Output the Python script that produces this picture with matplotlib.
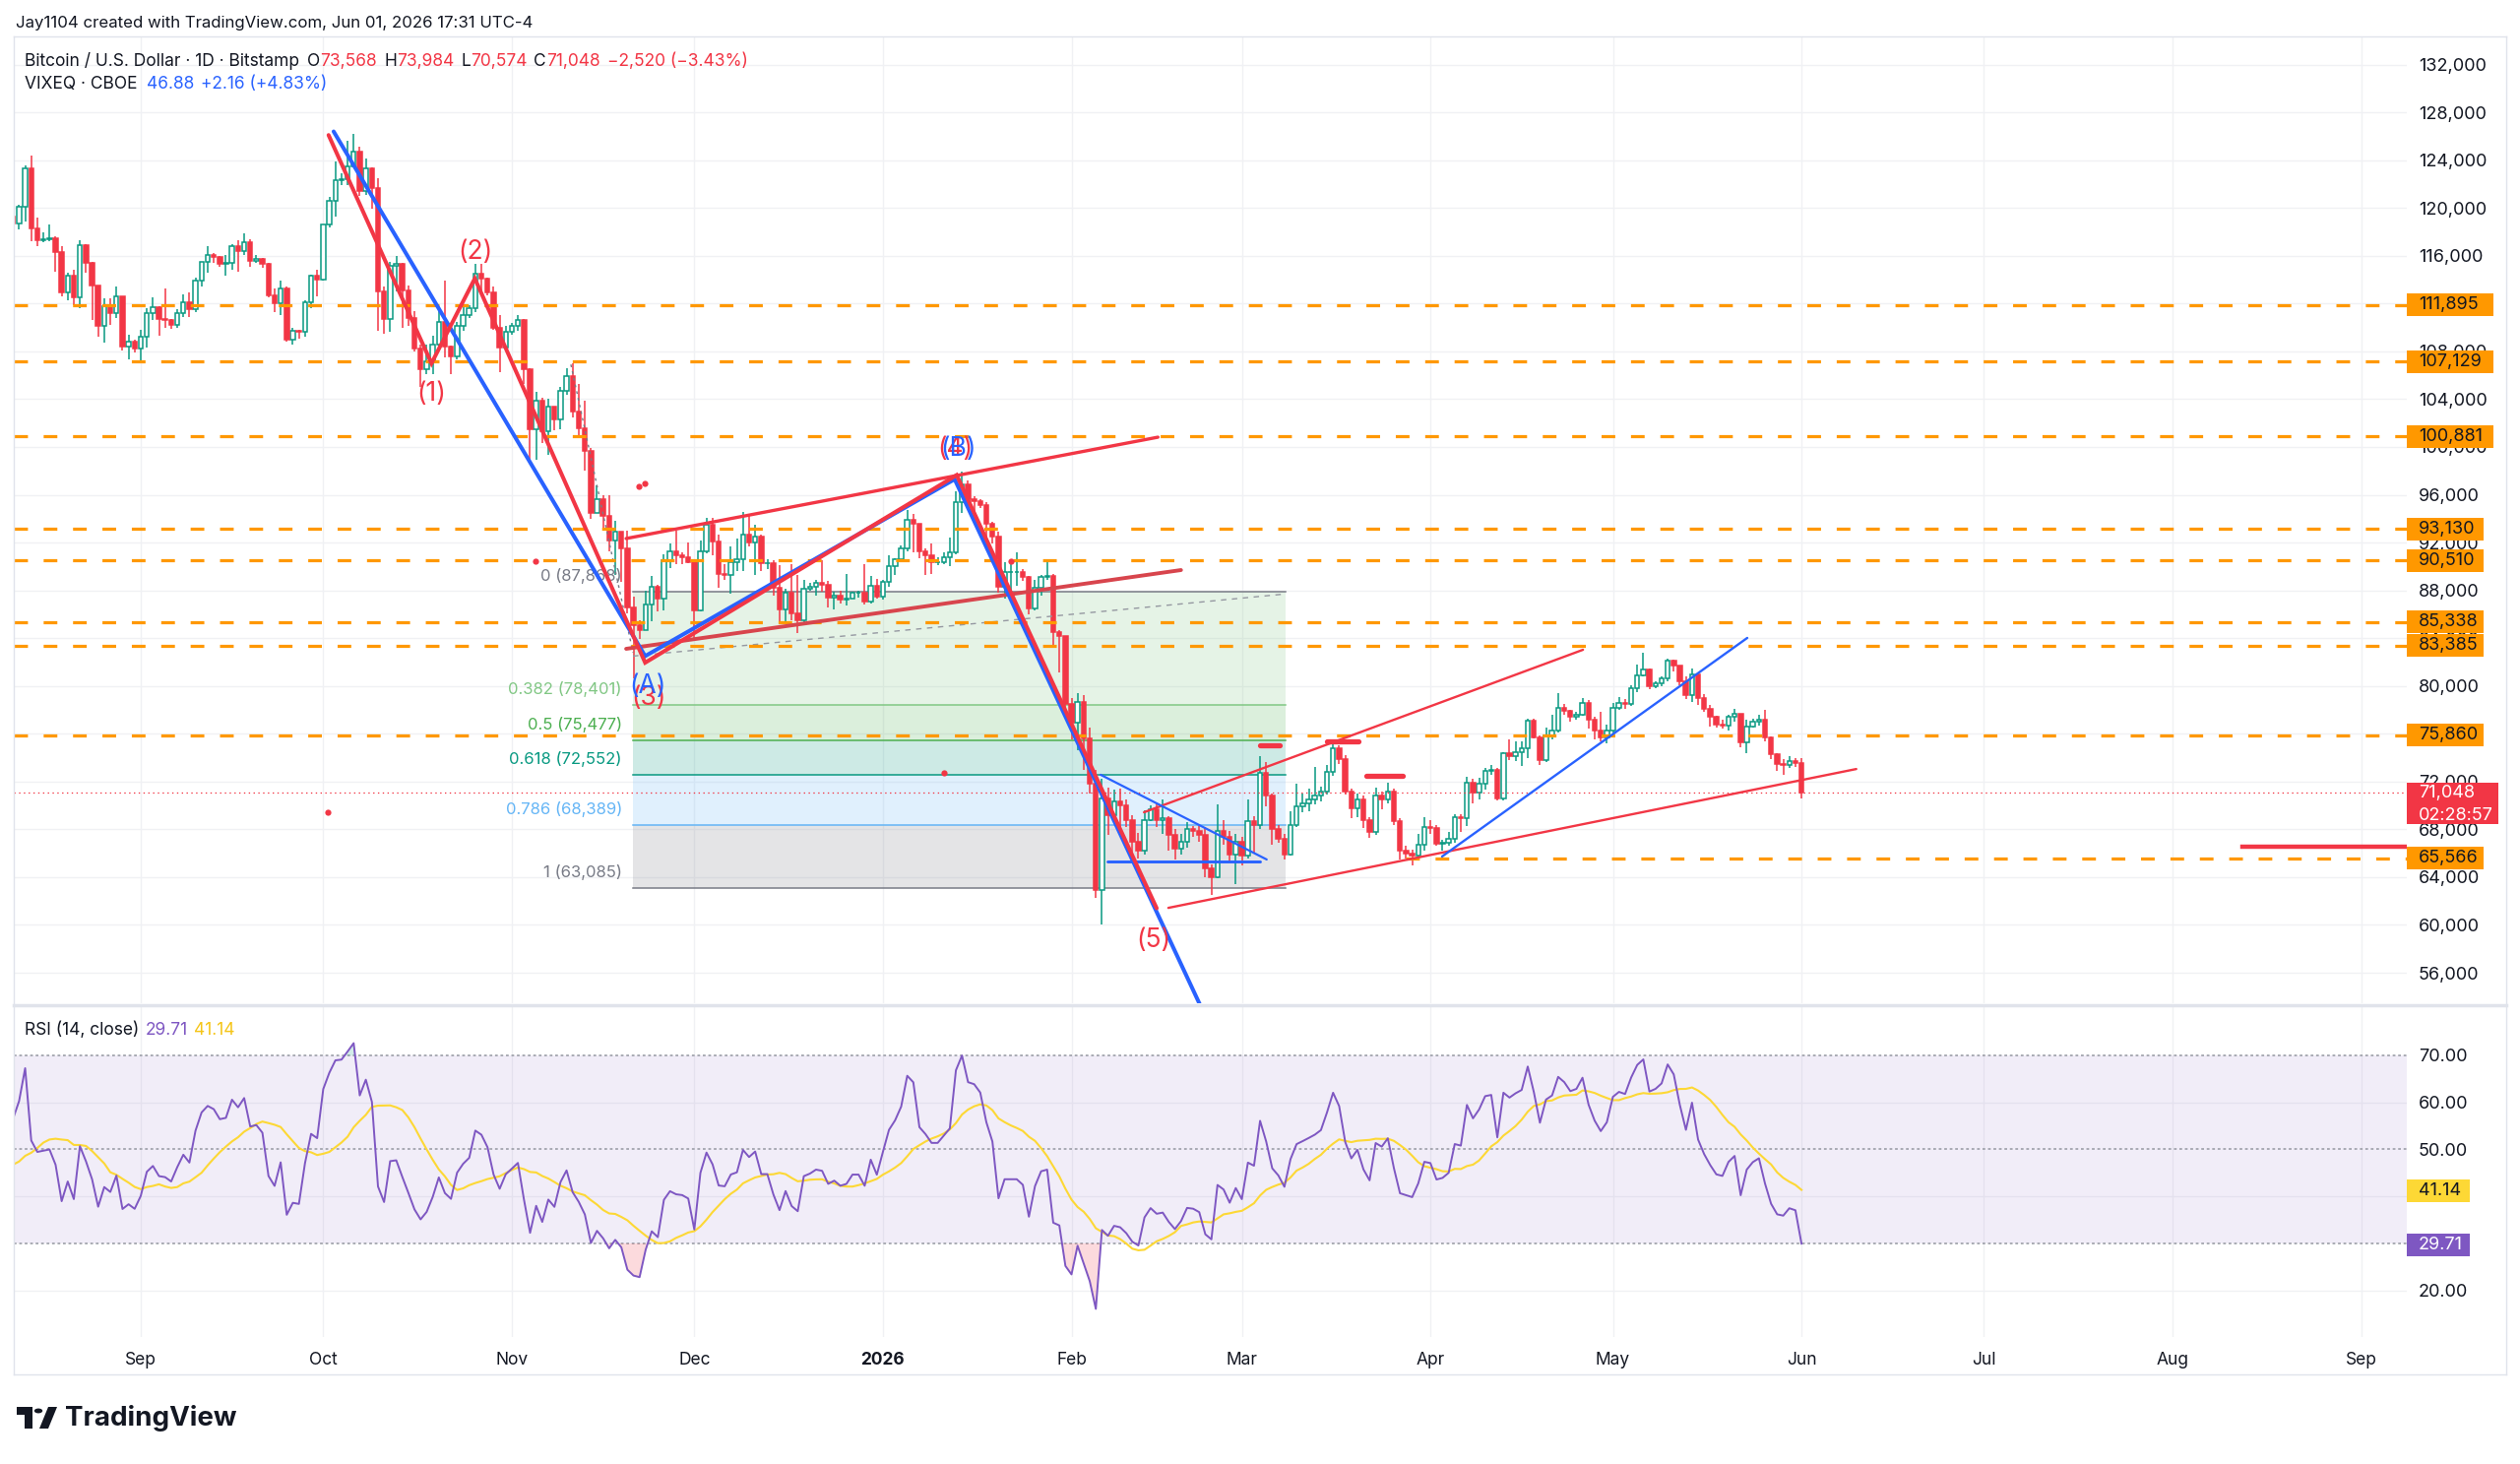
import numpy as np
import pandas as pd
import matplotlib
matplotlib.use("Agg")
import matplotlib.pyplot as plt
import matplotlib.dates as mdates
from matplotlib.patches import Rectangle, Polygon, Circle
from matplotlib.lines import Line2D
from matplotlib.ticker import FuncFormatter
from matplotlib.transforms import blended_transform_factory

plt.rcParams['font.family'] = ['Inter', 'DejaVu Sans']
plt.rcParams['lines.scale_dashes'] = False

W, H, DPI = 2560, 1487, 100

RED = '#f23645'
GREEN = '#089981'
BLUE = '#2962ff'
ORANGE = '#ff9800'
PURPLE = '#7e57c2'
YELLOW = '#fdd835'
DARK = '#131722'
GRID = '#f0f1f4'

# ---- daily BTC/USD candles, thousands of USD, from 2025-08-11 ----
first_day = "2025-08-11"
first_open = 119.3
close_k = [
    # Aug
    118.7, 120.1, 123.3, 118.3, 117.3, 117.4, 117.5, 116.3, 112.9, 114.3, 112.5, 116.9, 115.4, 113.5, 110.1, 111.8,
    111.2, 112.6, 108.4, 108.8, 108.2,
    # Sep
    109.2, 111.2, 111.7, 110.7, 110.6, 110.2, 111.2, 112.1, 111.5, 113.9, 115.5, 116.1, 115.9, 115.3, 115.4, 116.8,
    116.4, 117.1, 115.6, 115.7, 115.3, 112.7, 112.0, 113.3, 109.0, 109.7, 109.6, 112.1, 114.3, 114.0,
    # Oct
    118.6, 120.6, 122.3, 122.4, 123.5, 124.7, 121.4, 123.3, 121.7, 113.0, 110.7, 115.2, 115.3, 113.1, 110.8, 108.2,
    106.5, 107.2, 108.6, 110.5, 108.4, 107.6, 110.1, 111.0, 111.6, 114.5, 114.1, 112.9, 110.0, 108.3, 109.6,
    # Nov
    110.1, 110.6, 106.5, 101.5, 103.9, 101.3, 103.4, 102.3, 104.7, 105.9, 103.0, 101.6, 99.7, 94.5, 95.6, 94.2,
    92.2, 92.9, 91.5, 86.6, 85.1, 84.7, 86.8, 88.3, 87.3, 90.5, 91.3, 90.9, 90.8, 90.4,
    # Dec
    86.3, 91.3, 93.5, 92.1, 89.4, 89.3, 90.4, 90.6, 92.7, 92.0, 92.5, 90.3, 90.3, 88.2, 86.4, 87.8,
    86.1, 85.5, 88.1, 88.3, 88.6, 88.5, 87.4, 87.6, 87.2, 87.3, 87.8, 87.8, 87.1, 88.4, 87.5,
    # Jan
    88.7, 90.0, 90.6, 91.5, 93.9, 93.6, 91.3, 90.9, 90.4, 90.4, 90.8, 91.2, 95.4, 96.9, 95.6, 95.5,
    95.1, 93.6, 92.5, 88.3, 89.5, 89.5, 89.5, 89.1, 86.5, 88.2, 89.1, 89.2, 84.5, 84.2, 78.5,
    # Feb
    76.9, 78.7, 75.6, 71.8, 62.9, 70.6, 69.2, 70.3, 70.0, 68.8, 67.0, 66.2, 68.8, 69.7, 68.8, 68.9,
    67.5, 66.4, 67.0, 68.0, 67.9, 67.5, 64.7, 64.0, 67.9, 67.4, 65.9, 67.0,
    # Mar
    65.8, 68.7, 68.4, 72.7, 70.8, 68.0, 67.2, 65.9, 68.4, 69.9, 70.2, 70.5, 70.8, 71.2, 72.8, 74.8,
    73.9, 71.2, 69.8, 70.5, 68.8, 67.8, 70.8, 70.5, 71.2, 68.7, 66.2, 66.0, 65.8, 66.7, 68.2,
    # Apr
    68.1, 66.8, 66.9, 67.2, 69.0, 68.9, 71.9, 71.1, 71.8, 72.9, 73.0, 70.6, 74.4, 74.1, 74.5, 74.8,
    77.1, 75.7, 73.8, 75.9, 76.3, 78.2, 77.9, 77.4, 77.6, 78.6, 77.2, 76.3, 75.7, 76.3,
    # May
    78.2, 78.6, 78.5, 79.8, 80.9, 81.4, 80.0, 80.2, 80.6, 82.1, 81.7, 80.4, 79.2, 81.0, 79.0, 78.1,
    77.4, 76.8, 76.7, 77.4, 77.7, 75.3, 76.6, 77.0, 77.2, 75.7, 74.3, 73.5, 73.4, 73.7, 73.568,
    # Jun 1
    71.048,
]
high_k = [
    119.5, 120.3, 123.6, 124.4, 119.2, 118.0, 118.6, 117.6, 116.8, 114.6, 114.8, 117.3, 117.0, 115.5, 113.5, 112.4,
    112.4, 113.4, 112.6, 109.4, 109.0,
    109.8, 111.6, 112.5, 111.8, 113.3, 110.7, 111.5, 112.8, 112.9, 114.2, 115.5, 116.8, 116.2, 116.0, 116.1, 117.0,
    117.3, 117.9, 117.4, 116.1, 115.8, 115.4, 113.3, 113.9, 113.4, 110.0, 109.8, 112.3, 114.4, 114.8,
    118.6, 120.9, 123.9, 122.9, 125.6, 126.2, 125.1, 124.1, 123.4, 122.5, 113.4, 115.5, 116.0, 115.4, 113.5, 111.4,
    108.6, 108.6, 109.3, 111.4, 113.9, 108.5, 110.5, 111.7, 111.9, 115.3, 115.3, 114.2, 113.4, 111.0, 110.1,
    110.4, 111.0, 110.7, 106.6, 104.6, 104.1, 104.0, 103.4, 105.0, 106.6, 107.0, 105.3, 103.9, 99.9, 96.8, 96.0,
    96.0, 93.8, 92.9, 93.0, 87.5, 85.5, 88.0, 89.2, 88.5, 91.0, 91.9, 93.0, 91.2, 92.0,
    90.4, 92.2, 94.1, 94.1, 92.7, 90.2, 91.7, 92.3, 94.6, 94.4, 93.5, 92.7, 90.6, 90.5, 90.1, 88.1,
    90.2, 89.3, 88.9, 88.6, 88.9, 90.5, 88.8, 87.9, 88.0, 89.4, 87.9, 88.0, 90.2, 89.2, 89.0,
    88.9, 90.9, 90.7, 91.8, 94.7, 94.4, 93.6, 91.5, 91.9, 90.8, 91.2, 92.4, 96.3, 97.9, 97.2, 95.9,
    95.6, 95.4, 93.7, 92.9, 90.4, 90.3, 91.2, 89.8, 89.2, 88.9, 89.3, 90.6, 89.4, 84.7, 84.2,
    79.0, 79.4, 79.2, 76.5, 73.0, 72.2, 71.5, 71.3, 71.4, 70.5, 69.2, 67.7, 69.6, 70.0, 70.2, 70.5,
    69.1, 68.0, 67.6, 68.6, 68.3, 68.3, 68.2, 65.1, 70.1, 68.8, 67.9, 67.6,
    67.4, 70.5, 69.1, 74.1, 73.6, 71.0, 68.4, 67.6, 69.5, 71.8, 71.0, 71.4, 73.2, 71.6, 73.4, 75.4,
    75.0, 74.2, 71.4, 71.0, 70.8, 69.0, 71.5, 71.2, 71.9, 71.4, 68.9, 66.6, 66.3, 67.6, 69.0,
    68.8, 68.4, 67.1, 67.8, 69.3, 69.3, 72.4, 72.2, 72.3, 73.1, 73.4, 73.1, 74.5, 75.5, 75.4, 75.4,
    77.3, 77.3, 75.9, 76.5, 77.6, 79.4, 78.5, 78.0, 77.8, 79.0, 78.8, 77.4, 77.8, 76.8,
    78.6, 79.1, 78.9, 80.1, 81.8, 82.8, 81.5, 80.4, 80.8, 82.3, 82.2, 81.7, 80.8, 81.5, 81.1, 79.3,
    78.4, 77.5, 77.2, 77.6, 78.1, 77.7, 77.2, 77.3, 77.6, 78.0, 75.8, 74.4, 73.9, 74.1, 74.0,
    73.984,
]
low_k = [
    118.2, 118.2, 118.9, 117.2, 116.8, 117.1, 117.2, 114.7, 112.6, 112.3, 111.9, 111.6, 114.6, 110.6, 109.2, 108.7,
    110.2, 110.8, 108.1, 107.3, 107.9,
    107.2, 108.3, 110.6, 109.3, 110.0, 109.9, 110.0, 110.9, 110.9, 111.3, 113.4, 114.6, 115.4, 115.1, 114.3, 114.8,
    114.7, 116.1, 115.1, 115.4, 115.0, 112.5, 111.3, 111.0, 108.8, 108.6, 109.1, 109.2, 111.6, 112.6,
    113.9, 118.4, 119.3, 121.9, 121.9, 123.4, 121.0, 121.1, 119.9, 109.7, 109.5, 109.6, 113.0, 110.0, 110.1, 108.0,
    105.0, 106.1, 106.1, 108.3, 107.5, 106.1, 107.3, 109.7, 110.8, 111.3, 113.0, 112.7, 109.8, 106.3, 108.1,
    109.4, 109.7, 105.3, 98.9, 98.9, 100.3, 99.3, 101.4, 101.5, 104.4, 102.5, 100.8, 98.0, 94.0, 94.6, 93.0,
    91.3, 89.3, 88.7, 86.1, 80.6, 83.9, 84.7, 85.4, 86.2, 86.3, 89.9, 90.2, 90.2, 90.3,
    83.8, 86.2, 91.1, 90.9, 88.2, 88.9, 87.7, 89.6, 89.6, 91.7, 89.3, 89.6, 89.8, 87.6, 85.3, 85.3,
    85.5, 84.4, 85.2, 88.0, 87.6, 87.9, 86.6, 86.4, 86.9, 86.7, 87.3, 87.4, 86.8, 86.9, 87.3,
    87.2, 88.3, 89.3, 90.5, 91.3, 91.2, 90.7, 89.3, 89.4, 90.1, 90.2, 90.0, 91.0, 94.5, 95.1, 94.3,
    94.9, 92.5, 91.9, 87.8, 87.3, 88.0, 88.4, 88.8, 86.0, 86.3, 87.6, 88.9, 83.2, 81.1, 77.5,
    75.5, 74.6, 73.0, 71.0, 62.3, 60.0, 67.5, 68.8, 67.9, 68.2, 65.8, 65.6, 65.9, 68.7, 68.2, 67.6,
    66.2, 65.5, 65.9, 66.5, 67.4, 67.0, 64.0, 62.5, 63.9, 66.7, 65.2, 63.4,
    65.0, 65.6, 66.0, 68.0, 69.9, 66.7, 66.9, 65.5, 65.8, 68.2, 69.4, 69.5, 70.1, 70.3, 70.9, 72.5,
    73.5, 70.9, 68.9, 69.0, 68.1, 67.3, 67.5, 69.7, 70.2, 68.4, 65.5, 65.6, 65.0, 65.6, 66.2,
    67.6, 66.6, 66.2, 66.6, 66.9, 67.8, 68.3, 70.2, 70.5, 71.3, 72.6, 70.4, 70.4, 73.8, 73.7, 73.3,
    74.0, 75.6, 73.4, 73.6, 75.5, 76.1, 77.6, 77.0, 77.2, 77.5, 76.4, 75.5, 75.4, 75.2,
    76.0, 78.0, 78.1, 78.3, 79.5, 80.8, 79.7, 79.8, 80.0, 80.4, 81.2, 80.1, 78.9, 78.7, 78.4, 77.8,
    76.6, 76.5, 76.4, 76.3, 77.0, 74.9, 74.4, 76.5, 76.7, 75.4, 73.9, 72.9, 72.6, 73.1, 73.2,
    70.574,
]
# closes before the window, only to warm up the RSI
warmup_close_k = [
    117.5, 117.4, 119.1, 119.8, 117.7, 118.7, 119.3, 117.9, 117.9, 117.3, 117.4, 119.9, 118.8, 118.4, 117.6, 117.9,
    119.4, 118.0, 117.9, 117.8, 115.8, 113.3, 112.6, 114.2, 115.1, 114.1, 115.0, 117.5, 116.7, 116.5, 119.3,
]

# horizontal levels (orange dashed) and where they start (None = left edge)
level_prices = [111895, 107129, 100881, 93130, 90510, 85338, 83385, 75860, 65566]
level_starts = [None, None, None, None, None, None, None, None, "2026-03-28"]

# fibonacci retracement
fib_ratios = ["0", "0.382", "0.5", "0.618", "0.786", "1"]
fib_prices = [87868, 78401, 75477, 72552, 68389, 63085]
fib_colors = ['#787b86', '#81c784', '#4caf50', '#089981', '#64b5f6', '#787b86']
fib_span = ("2025-11-20 22:00", "2026-03-08 05:00")

# drawings: (date, price) anchors
wave_red = [("2025-10-01 21:00", 126100), ("2025-10-18 19:00", 107000), ("2025-10-25 22:00", 114100),
            ("2025-11-22 22:00", 81950), ("2026-01-13 03:00", 97650), ("2026-02-15 00:00", 61400)]
wave_blue = [("2025-10-02 17:00", 126400), ("2025-11-22 22:00", 82500), ("2026-01-12 19:00", 97300),
             ("2026-02-22 10:00", 53000)]
wedge_up = [("2025-11-19 19:00", 92340), ("2026-02-15 05:00", 100820)]
wedge_dn = [("2025-11-19 19:00", 83110), ("2026-02-19 00:00", 89700)]
fib_trend = [("2025-11-10 17:00", 106900), ("2025-11-20 22:00", 82800)]
fib_diag = [("2025-11-20 22:00", 82500), ("2026-03-08 05:00", 87700)]
chan_up = [("2026-02-12 22:00", 69430), ("2026-04-26 02:00", 83030)]
chan_dn = [("2026-02-16 22:00", 61430), ("2026-06-10 00:00", 73050)]
rise_blue = [("2026-04-02 22:00", 65730), ("2026-05-23 02:00", 84020)]
tri_diag = [("2026-02-05 19:00", 72570), ("2026-03-05 02:00", 65480)]
tri_flat = [("2026-02-06 22:00", 65300), ("2026-03-04 00:00", 65300)]
marks = [("2026-03-04 00:00", "2026-03-07 05:00", 75050), ("2026-03-15 00:00", "2026-03-20 05:00", 75370),
         ("2026-03-21 12:00", "2026-03-27 12:00", 72500)]
future_line = ("2026-08-12 12:00", 66510)
dots = [("2025-11-21 22:00", 96700), ("2025-11-22 22:00", 96950), ("2025-11-04 22:00", 90440),
        ("2025-10-01 17:00", 69440), ("2026-01-22 00:00", 90440), ("2026-01-11 00:00", 72730)]
wave_labels = [("(1)", "2025-10-18 17:00", 104450, RED), ("(2)", "2025-10-26 00:00", 116310, RED),
               ("(3)", "2025-11-23 10:00", 79000, RED), ("(A)", "2025-11-23 06:00", 79950, BLUE),
               ("(4)", "2026-01-12 22:00", 99870, RED), ("(B)", "2026-01-13 10:00", 99870, BLUE),
               ("(5)", "2026-02-14 12:00", 58730, RED)]

month_ticks = ["2025-09-01", "2025-10-01", "2025-11-01", "2025-12-01", "2026-01-01", "2026-02-01", "2026-03-01",
               "2026-04-01", "2026-05-01", "2026-06-01", "2026-07-01", "2026-08-01", "2026-09-01"]
month_labels = ["Sep", "Oct", "Nov", "Dec", "2026", "Feb", "Mar", "Apr", "May", "Jun", "Jul", "Aug", "Sep"]

last_price = 71048
rsi_last, rsi_ma_last = 29.71, 41.14


def fx(px):
    return px / W


def fy(py):
    return 1 - py / H


def dn(s):
    return mdates.datestr2num(s)


fig = plt.figure(figsize=(W / DPI, H / DPI), dpi=DPI)
fig.patch.set_facecolor('white')
L, R = 14, 2445
ax = fig.add_axes([fx(L), fy(1019), fx(R) - fx(L), fy(37) - fy(1019)])
axr = fig.add_axes([fx(L), fy(1358), fx(R) - fx(L), fy(1023) - fy(1358)], sharex=ax)

x0 = dn(first_day)
ax.set_xlim(x0 + 0.13, x0 + 393.5)
ymin, ymax = 53450, 134356
ax.set_ylim(ymin, ymax)
rmin, rmax = 10.12, 80.19
axr.set_ylim(rmin, rmax)

for a in (ax, axr):
    for s in a.spines.values():
        s.set_visible(False)
    a.set_facecolor('none')

# candles
dates = x0 + np.arange(len(close_k))
close = np.array(close_k) * 1000
opens = np.array([first_open] + close_k[:-1]) * 1000
high = np.maximum(np.array(high_k) * 1000, np.maximum(opens, close))
low = np.minimum(np.array(low_k) * 1000, np.minimum(opens, close))
up = close >= opens
blo = np.minimum(opens, close)
bh = np.abs(close - opens)
ax.vlines(dates, low, high, colors=np.where(up, GREEN, RED), lw=1.1, zorder=3)
ax.bar(dates[up], bh[up], bottom=blo[up], width=0.72, facecolor='white', edgecolor=GREEN, lw=1.1, zorder=4)
ax.bar(dates[~up], bh[~up], bottom=blo[~up], width=0.72, facecolor=RED, edgecolor=RED, lw=1.1, zorder=4)

# grid
ax.set_yticks(np.arange(56000, 132001, 4000))
ax.yaxis.tick_right()
ax.yaxis.set_major_formatter(FuncFormatter(lambda v, p: f"{v:,.0f}"))
ax.tick_params(axis='y', length=0, pad=8.6, labelsize=13, labelcolor=DARK)
ax.tick_params(axis='x', length=0, labelbottom=False)
axr.set_xticks([dn(m) for m in month_ticks])
axr.set_xticklabels(month_labels)
axr.tick_params(axis='x', length=0, pad=11, labelsize=12.5, labelcolor=DARK)
axr.get_xticklabels()[4].set_fontweight('bold')
for a in (ax, axr):
    a.grid(True, color=GRID, lw=1, zorder=0)
    a.set_axisbelow(True)

# fib retracement
f0, f1 = dn(fib_span[0]), dn(fib_span[1])
for i in range(1, len(fib_prices)):
    ax.fill_between([f0, f1], fib_prices[i - 1], fib_prices[i], color=fib_colors[i], alpha=0.2, lw=0, zorder=1)
for r, p, c in zip(fib_ratios, fib_prices, fib_colors):
    ax.plot([f0, f1], [p, p], color=c, lw=1.1, zorder=2)
    ax.annotate(f"{r} ({p:,})", xy=(f0, p), xytext=(-8, 11.5), textcoords='offset points',
                ha='right', va='center', fontsize=12, color=c, zorder=6)
ax.plot([dn(d) for d, p in fib_trend], [p for d, p in fib_trend], color='#787b86', lw=1, ls=(0, (2, 3)), zorder=5)
ax.plot([dn(d) for d, p in fib_diag], [p for d, p in fib_diag], color='#9598a1', lw=1, ls=(0, (4, 4)), zorder=5)

# horizontal orange levels
for p, st in zip(level_prices, level_starts):
    xs = ax.get_xlim()[0] if st is None else dn(st)
    ax.plot([xs, ax.get_xlim()[1]], [p, p], color=ORANGE, lw=2.3, dashes=(10, 11.5), zorder=6)

# last price line
ax.axhline(last_price, color=RED, lw=0.9, ls=(0, (1, 2.5)), zorder=5)


def path(pts, color, lw, z=7):
    ax.plot([dn(d) for d, p in pts], [p for d, p in pts], color=color, lw=lw, zorder=z,
            solid_joinstyle='miter', solid_capstyle='round')


path(wedge_up, RED, 2.4)
path(wedge_dn, '#d8454d', 2.8)
path(wave_blue, BLUE, 2.9)
path(wave_red, RED, 2.9, z=8)
path(chan_up, RED, 1.7)
path(chan_dn, RED, 1.7)
path(rise_blue, BLUE, 1.7)
path(tri_diag, BLUE, 1.6)
path(tri_flat, BLUE, 2.1)
for a, b, p in marks:
    ax.plot([dn(a), dn(b)], [p, p], color=RED, lw=3.8, solid_capstyle='round', zorder=8)
ax.plot([dn(future_line[0]), ax.get_xlim()[1]], [future_line[1]] * 2, color=RED, lw=3.2, zorder=8)
ax.plot([dn(d) for d, p in dots], [p for d, p in dots], 'o', color=RED, ms=4.5, mec='none', zorder=8)
for t, d, p, c in wave_labels:
    ax.text(dn(d), p, t, color=c, fontsize=19, ha='center', va='center', zorder=9)

# price scale tags
bt = blended_transform_factory(ax.transAxes, ax.transData)
axw = R - L
ppx = (ymax - ymin) / (1019 - 37)


def tag(a, trans, perpx, y, text, fc, tc, wpx, up_px=11.5, dn_px=11.5):
    a.add_patch(Rectangle((1.0, y - dn_px * perpx), wpx / axw, (up_px + dn_px) * perpx, transform=trans,
                          facecolor=fc, edgecolor='none', clip_on=False, zorder=20))
    a.text(1.0 + 12 / axw, y, text, transform=trans, color=tc, fontsize=13, va='center', ha='left',
           clip_on=False, zorder=21)


for p in level_prices:
    s = f"{p:,}"
    tag(ax, bt, ppx, p, s, ORANGE, DARK, 88 if len(s) > 6 else 78)
tag(ax, bt, ppx, last_price, f"{last_price:,}", RED, 'white', 93, up_px=10, dn_px=32)
ax.text(1.0 + 12 / axw, last_price - 23 * ppx, "02:28:57", transform=bt, color='white', fontsize=13,
        va='center', ha='left', clip_on=False, zorder=21)

# RSI pane
allc = np.array(warmup_close_k + close_k)
d = np.diff(allc)
g = np.maximum(d, 0)
lo = np.maximum(-d, 0)
n = 14
ag = np.full(len(d), np.nan)
al = np.full(len(d), np.nan)
ag[n - 1] = g[:n].mean()
al[n - 1] = lo[:n].mean()
for i in range(n, len(d)):
    ag[i] = (ag[i - 1] * (n - 1) + g[i]) / n
    al[i] = (al[i - 1] * (n - 1) + lo[i]) / n
rsi_all = np.concatenate([[np.nan], 100 - 100 / (1 + ag / al)])
ma_all = pd.Series(rsi_all).rolling(14).mean().values
k = len(warmup_close_k)
rsi = rsi_all[k:]
rsi_ma = ma_all[k:]

axr.axhspan(30, 70, color=PURPLE, alpha=0.1, lw=0, zorder=1)
for lvl in (70, 50, 30):
    axr.axhline(lvl, color='#9598a1', lw=1.1, ls=(0, (2, 2)), zorder=2)
axr.set_yticks([20, 30, 40, 50, 60, 70])
axr.set_yticklabels(["20.00", "", "", "50.00", "60.00", "70.00"])
axr.yaxis.tick_right()
axr.tick_params(axis='y', length=0, pad=8.6, labelsize=13, labelcolor=DARK)
axr.yaxis.grid(False)
for lvl in (20, 40, 60):
    axr.axhline(lvl, color=GRID, lw=1, zorder=0)
axr.fill_between(dates, rsi, 30, where=rsi < 30, interpolate=True, color=RED, alpha=0.18, lw=0, zorder=2)
axr.fill_between(dates, rsi, 70, where=rsi > 70, interpolate=True, color=GREEN, alpha=0.18, lw=0, zorder=2)
axr.plot(dates, rsi_ma, color=YELLOW, lw=1.5, zorder=3)
axr.plot(dates, rsi, color=PURPLE, lw=1.4, zorder=4)
rt = blended_transform_factory(axr.transAxes, axr.transData)
rpx = (rmax - rmin) / (1358 - 1023)
tag(axr, rt, rpx, rsi_ma_last, f"{rsi_ma_last:.2f}", YELLOW, DARK, 64)
tag(axr, rt, rpx, rsi_last, f"{rsi_last:.2f}", PURPLE, 'white', 64)


# header and legends
def chain(x, y, parts, size=12.5):
    t = fig.text(fx(x), fy(y), parts[0][0], color=parts[0][1], fontsize=size, va='baseline')
    for s, c, gap in parts[1:]:
        t = ax.annotate(s, xy=(1, 0), xycoords=t, xytext=(gap, 0), textcoords='offset points',
                        color=c, fontsize=size, va='bottom', ha='left', annotation_clip=False)
    return t


chain(16, 28, [("Jay1104 created with TradingView.com, Jun 01, 2026 17:31 UTC-4", DARK)], size=12.1)
chain(25, 67, [("Bitcoin / U.S. Dollar · 1D · Bitstamp", DARK), ("O", DARK, 6), ("73,568", RED, 0),
               ("H", DARK, 5), ("73,984", RED, 0), ("L", DARK, 5), ("70,574", RED, 0),
               ("C", DARK, 5), ("71,048", RED, 0), ("−2,520 (−3.43%)", RED, 5)])
chain(25, 90, [("VIXEQ · CBOE", DARK), ("46.88", BLUE, 7), ("+2.16 (+4.83%)", BLUE, 5)])
chain(25, 1051, [("RSI (14, close)", DARK), ("29.71", PURPLE, 5), ("41.14", '#f5c518', 4)])

# frame
for (xa, ya, xb, yb, lw) in [(14, 37, 2546, 37, 1), (14, 1396, 2546, 1396, 1), (14, 37, 14, 1396, 1),
                             (2546, 37, 2546, 1396, 1), (14, 1021, 2546, 1021, 2.5)]:
    fig.add_artist(Line2D([fx(xa), fx(xb)], [fy(ya), fy(yb)], transform=fig.transFigure, color='#e0e3eb', lw=lw))

# TradingView logo
fig.add_artist(Polygon([(fx(17), fy(1429)), (fx(33), fy(1429)), (fx(33), fy(1451)), (fx(25), fy(1451)),
                        (fx(25), fy(1437)), (fx(17), fy(1437))], closed=True, transform=fig.transFigure,
                       facecolor=DARK, edgecolor='none'))
fig.add_artist(Circle((fx(39), fy(1433)), 4.2 / W, transform=fig.transFigure, facecolor=DARK, edgecolor='none'))
fig.add_artist(Polygon([(fx(40), fy(1451)), (fx(49), fy(1429)), (fx(58), fy(1429)), (fx(49), fy(1451))],
                       closed=True, transform=fig.transFigure, facecolor=DARK, edgecolor='none'))
fig.text(fx(66), fy(1440), "TradingView", fontsize=20, fontweight='bold', color=DARK, va='center')

fig.savefig("out.png", dpi=DPI, facecolor='white')
